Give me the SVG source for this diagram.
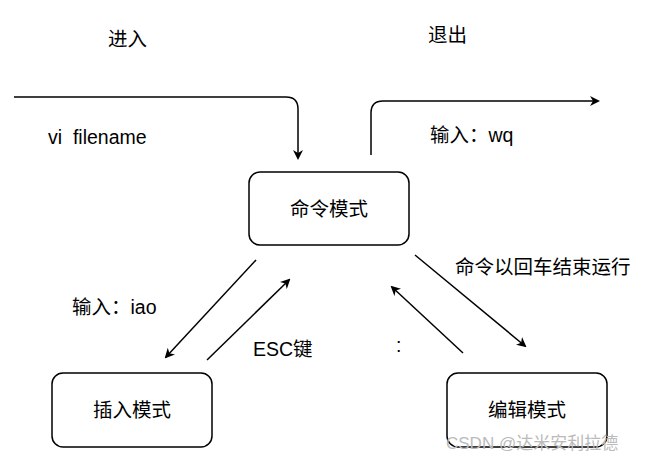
<svg xmlns="http://www.w3.org/2000/svg" width="653" height="462" viewBox="0 0 653 462">
<style>
.n{fill:#fff;stroke:#000;stroke-width:1.5}
.t{font-family:"Liberation Sans","Noto Sans CJK SC",sans-serif;font-size:19.5px;fill:#000}
.c{fill:none;stroke:#000;stroke-width:1.5;marker-end:url(#a)}
</style>
<defs><marker id="a" markerWidth="10" markerHeight="10" refX="8" refY="5" orient="auto" markerUnits="userSpaceOnUse"><path d="M0,0 L10,5 L0,10 L3,5 Z" fill="#000"/></marker></defs>
<rect width="653" height="462" fill="#fff"/>
<g id="cmd"><rect class="n" x="249" y="172" width="160" height="73" rx="11"/><text class="t" x="329" y="216" text-anchor="middle">命令模式</text></g>
<g id="ins"><rect class="n" x="52" y="373" width="160" height="74" rx="11"/><text class="t" x="132" y="417" text-anchor="middle">插入模式</text></g>
<g id="edit"><rect class="n" x="447" y="373" width="160" height="74" rx="11"/><text class="t" x="527" y="417" text-anchor="middle">编辑模式</text></g>
<g id="connectors">
<path class="c" d="M14,97 L286,97 Q298,97 298,109 L298,158"/>
<path class="c" d="M371,155 L371,113 Q371,101 383,101 L598,101"/>
<path class="c" d="M256,260 L166,357"/>
<path class="c" d="M207,360 L289,280"/>
<path class="c" d="M415,255 L525,346"/>
<path class="c" d="M463,353 L392,287"/>
</g>
<g id="labels" class="t">
<text x="108" y="46">进入</text>
<text x="428" y="42">退出</text>
<text x="48" y="144" xml:space="preserve">vi  filename</text>
<text x="430" y="142">输入：wq</text>
<text x="455" y="274">命令以回车结束运行</text>
<text x="72" y="314">输入：iao</text>
<text x="253" y="356">ESC键</text>
<text x="396" y="352">:</text>
</g>
<text x="446" y="449" style="font-family:'Liberation Sans','Noto Sans CJK SC',sans-serif;font-size:17px;fill:#bbb">CSDN @达米安利拉德</text>
</svg>
